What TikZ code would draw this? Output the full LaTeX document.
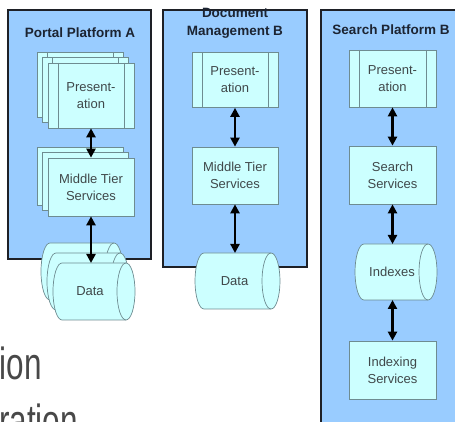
\documentclass[tikz,border=0pt]{standalone}
\usepackage{fontspec}
\setmainfont{Liberation Sans}
\newfontfamily\narrowfont[FakeStretch=0.7]{Liberation Sans}
\usetikzlibrary{arrows.meta,calc}
\definecolor{panelfill}{RGB}{153,204,255}
\definecolor{paneledge}{RGB}{30,32,38}
\definecolor{boxfill}{RGB}{204,255,255}
\definecolor{boxedge}{RGB}{110,140,145}
\definecolor{titlecol}{RGB}{28,36,50}
\definecolor{textcol}{RGB}{64,72,74}
\definecolor{bigcol}{RGB}{72,72,72}
\newcommand\drumnode[5]{% name, cx, cy, w, h
  \node[minimum width=#4pt, minimum height=#5pt, inner sep=0pt, outer sep=0pt] (#1) at (#2,#3) {};
  \draw[boxline, fill=boxfill] ($(#1.north west)+(9,0)$) -- ($(#1.north east)+(-9,0)$)
     arc[start angle=90, end angle=-90, x radius=9, y radius=#5/2]
     -- ($(#1.south west)+(9,0)$)
     arc[start angle=270, end angle=90, x radius=9, y radius=#5/2] -- cycle;
  \draw[boxline] ($(#1.north east)+(-9,0)$) arc[start angle=90, end angle=270, x radius=9, y radius=#5/2];
}
\begin{document}
\begin{tikzpicture}[x=1pt,y=1pt,
  panel/.style={draw=paneledge, line width=1.6pt, fill=panelfill, inner sep=0pt},
  boxline/.style={draw=boxedge, line width=0.7pt},
  plainbox/.style={boxline, fill=boxfill, inner sep=0pt, text=textcol, align=center,
     font=\fontsize{13}{17}\selectfont},
  procbox/.style={plainbox, path picture={
     \draw[boxline] ([xshift=10pt]path picture bounding box.north west) -- ([xshift=10pt]path picture bounding box.south west);
     \draw[boxline] ([xshift=-10pt]path picture bounding box.north east) -- ([xshift=-10pt]path picture bounding box.south east);}},
  boxtext/.style={text=textcol, inner sep=0pt, font=\fontsize{13}{17}\selectfont},
  title/.style={text=titlecol, inner sep=0pt, align=center, font=\fontsize{13.5}{18}\selectfont\bfseries},
  bigtext/.style={text=bigcol, inner sep=0pt, font=\narrowfont\fontsize{45}{54}\selectfont},
  dbl/.style={line width=2.4pt, draw=black, {Triangle[length=9pt,width=9pt]}-{Triangle[length=9pt,width=9pt]}}
]
\useasboundingbox (0,0) rectangle (455,422);
\clip (0,0) rectangle (455,422);
\fill[white] (0,0) rectangle (455,422);

% panels
\node[panel, minimum width=143pt, minimum height=249pt] (panA) at (79.5,287.5) {};
\node[panel, minimum width=144pt, minimum height=257pt] (panB) at (235,283.5) {};
\node[panel, minimum width=159pt, minimum height=432pt] (panC) at (400.5,196) {};

% titles
\node[title] (tA) at (80,389.5) {Portal Platform A};
\node[title] (tB) at (235,398.5) {Document\\Management B};
\node[title] (tC) at (391,392) {Search Platform B};

% Panel A : presentation stack
\node[procbox, minimum width=86pt, minimum height=65pt] (pA3) at (80,337.5) {};
\node[procbox, minimum width=86pt, minimum height=65pt] (pA2) at (85.5,332) {};
\node[procbox, minimum width=86pt, minimum height=65pt] (pA1) at (91,326.5) {Present-\\ation};
% middle tier stack
\node[plainbox, minimum width=86pt, minimum height=58pt] (mA3) at (80,246) {};
\node[plainbox, minimum width=86pt, minimum height=58pt] (mA2) at (85.5,240.5) {};
\node[plainbox, minimum width=86pt, minimum height=58pt] (mA1) at (91,235) {Middle Tier\\Services};
% data stack
\drumnode{dA3}{82}{150.5}{82}{57}
\drumnode{dA2}{88}{140.5}{82}{57}
\drumnode{dA1}{94}{130.5}{82}{57}
\node[boxtext] (dA1t) at ($(dA1.center)+(-4,0)$) {Data};

% Panel B
\node[procbox, minimum width=86pt, minimum height=55pt] (pB) at (235,342) {Present-\\ation};
\node[plainbox, minimum width=86pt, minimum height=57pt] (mB) at (235,246.5) {Middle Tier\\Services};
\drumnode{dB}{237.5}{141}{85}{56}
\node[boxtext] (dBt) at ($(dB.center)+(-3,0)$) {Data};

% Panel C
\node[procbox, minimum width=87pt, minimum height=57pt] (pC) at (392.5,343.5) {Present-\\ation};
\node[plainbox, minimum width=87pt, minimum height=58pt] (sC) at (392.5,247) {Search\\Services};
\drumnode{iC}{396}{150}{82}{56}
\node[boxtext] (iCt) at ($(iC.center)+(-4,0)$) {Indexes};
\node[plainbox, minimum width=87pt, minimum height=58pt] (isC) at (392.5,52) {Indexing\\Services};

% arrows
\draw[dbl] (pA1.south) -- (pA1.south |- mA1.north);
\draw[dbl] (mA1.south) -- (mA1.south |- dA1.north);
\draw[dbl] (pB.south) -- (mB.north);
\draw[dbl] (mB.south) -- (mB.south |- dB.north);
\draw[dbl] (pC.south) -- (sC.north);
\draw[dbl] (sC.south) -- (sC.south |- iC.north);
\draw[dbl] (isC.north |- iC.south) -- (isC.north);

% cut-off slide text
\node[bigtext, anchor=base west] (ion) at (-0.5,42) {ion};
\node[bigtext, anchor=base west] (ration) at (-1,-15) {ration};
\end{tikzpicture}
\end{document}
